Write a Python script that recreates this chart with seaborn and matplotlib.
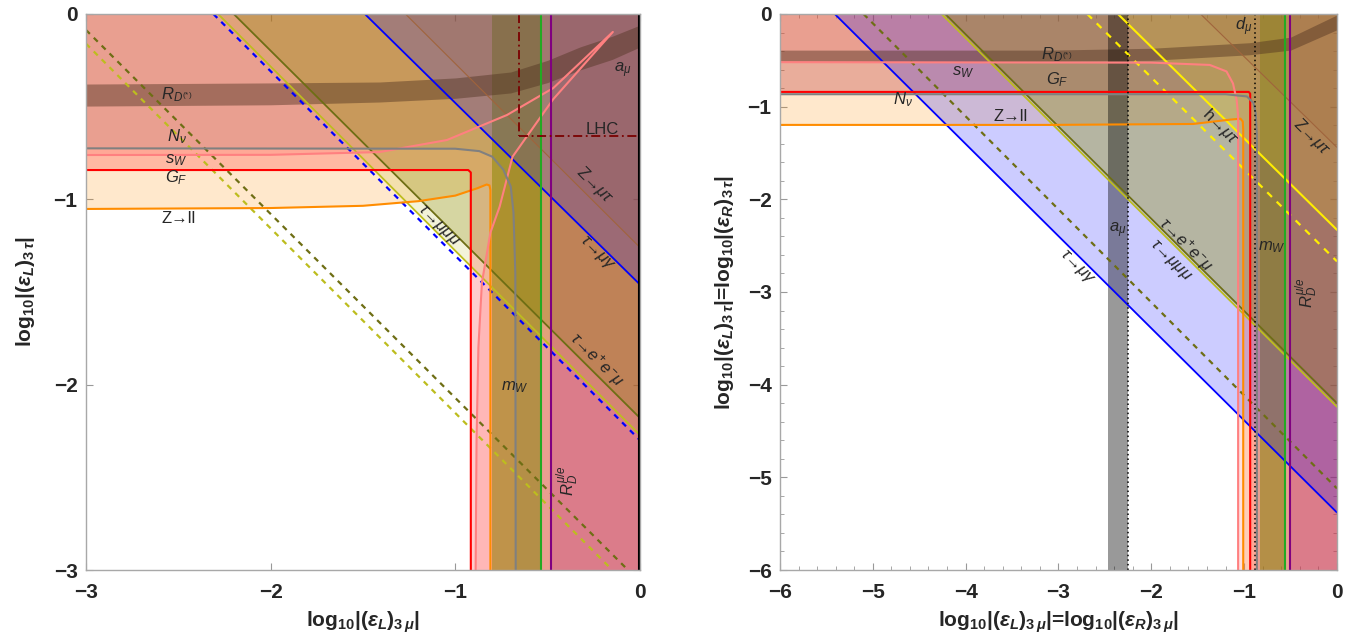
import numpy as np
import matplotlib
matplotlib.use("Agg")
import matplotlib.pyplot as plt
import seaborn as sns

# ---- left panel data: log10|(eps_L)_3mu| vs log10|(eps_L)_3tau| ----
zll_x = [-3, -2, -1.5, -1.2, -1.0, -0.88, -0.83, -0.815, -0.81, -0.81]
zll_y = [-1.052, -1.047, -1.035, -1.01, -0.98, -0.94, -0.92, -0.925, -0.95, -3]
gf_x = [-3, -0.93, -0.916, -0.916]
gf_y = [-0.842, -0.842, -0.855, -3]
sw_up_x = [-3, -2, -1.41, -1.045, -0.72, -0.47, -0.147]
sw_up_y = [-0.761, -0.76, -0.745, -0.68, -0.545, -0.40, -0.097]
sw_lo_x = [-0.147, -0.47, -0.69, -0.76, -0.81, -0.856, -0.875, -0.885, -0.89]
sw_lo_y = [-0.097, -0.46, -0.77, -1.04, -1.18, -1.45, -1.8, -2.3, -3]
nnu_x = [-3, -1.0, -0.87, -0.80, -0.74, -0.70, -0.685, -0.675, -0.673]
nnu_y = [-0.725, -0.727, -0.74, -0.77, -0.84, -0.93, -1.07, -1.4, -3]
rd_x = [-3, -2, -1.41, -1.0, -0.70, -0.5, -0.325, -0.15, 0]
rd_lo = [-0.497, -0.49, -0.475, -0.455, -0.426, -0.37, -0.302, -0.245, -0.178]
rd_hi = [-0.378, -0.372, -0.367, -0.345, -0.313, -0.25, -0.178, -0.12, -0.06]
mw_band = [-0.80, -0.537]
rdmue_x = -0.482
amu_x = -0.005
lhc_x, lhc_y = -0.655, -0.66
# diagonal limits: (x at top edge, y at right edge)
tmmm_L = (-2.285, -2.272)
teem_L = (-2.20, -2.18)
tmg_L = (-1.49, -1.46)
tmg_fut_L = (-2.31, -2.30)
zmt_L = (-1.27, -1.26)
# dashed projections: (y at left edge, x at bottom edge)
olive_dash_L = (-0.086, -0.065)
yellow_dash_L = (-0.16, -0.15)

# ---- right panel data: eps_L = eps_R ----
zll_xR = [-6, -3.09, -1.55, -1.15, -1.04, -1.015, -1.01, -1.01]
zll_yR = [-1.197, -1.197, -1.187, -1.14, -1.13, -1.16, -1.25, -6]
gf_xR = [-6, -0.95, -0.935, -0.935]
gf_yR = [-0.841, -0.841, -0.86, -6]
sw_xR = [-6, -2, -1.37, -1.19, -1.12, -1.08, -1.065, -1.065]
sw_yR = [-0.52, -0.525, -0.55, -0.62, -0.75, -0.93, -1.1, -6]
nnu_xR = [-6, -1.2, -0.97, -0.90, -0.875, -0.863, -0.863]
nnu_yR = [-0.866, -0.866, -0.89, -0.96, -1.07, -1.3, -6]
rd_xR = [-6, -4, -3.09, -2, -0.94, -0.5, 0]
rd_loR = [-0.51, -0.515, -0.51, -0.50, -0.44, -0.39, -0.17]
rd_hiR = [-0.39, -0.39, -0.39, -0.37, -0.31, -0.25, -0.01]
amu_band = [-2.47, -2.25]
dmu_x = -0.88
mw_bandR = [-0.83, -0.56]
rdmue_xR = -0.505
tmg_R = (-5.41, -5.38)
tmg_fut_R = (-6.21, -6.21)
olive_dash_R = (-5.10, -5.12)
teem_R = (-4.22, -4.20)
tmmm_R = (-4.26, -4.24)
hmt_R = (-2.36, -2.33)
hmt_dash_R = (-2.69, -2.67)
zmt_R = (-1.47, -1.44)

sns.set_style("ticks")
plt.rcParams["font.family"] = ["Liberation Sans", "DejaVu Sans"]
plt.rcParams["mathtext.fontset"] = "custom"
plt.rcParams["mathtext.rm"] = "Liberation Sans"
plt.rcParams["mathtext.it"] = "Liberation Sans:italic"
plt.rcParams["mathtext.bf"] = "Liberation Sans:italic:bold"
plt.rcParams["mathtext.sf"] = "Liberation Sans:bold"

fig = plt.figure(figsize=(13.64, 6.44), dpi=100)
axL = fig.add_axes([0.0630, 0.1149, 0.4062, 0.8634])
axR = fig.add_axes([0.5718, 0.1149, 0.4084, 0.8634])

YEL = "#BDBD1E"
OLV = "#6E6E14"


def line(ax, x, y, color, lw=1.3, ls="-", z=3):
    sns.lineplot(x=list(x), y=list(y), sort=False, estimator=None, color=color,
                 lw=lw, linestyle=ls, ax=ax, zorder=z)


def fill_outside(ax, bx, by, lo, color, alpha):
    ax.fill([lo] + list(bx) + [0, 0], [0] + list(by) + [lo, 0],
            color=color, alpha=alpha, lw=0, zorder=1)


def diag(ax, d, color, lw=1.3, ls="-", fill=None, alpha=0.0):
    xt, yr = d
    if fill is not None:
        ax.fill([xt, 0, 0], [0, yr, 0], color=fill, alpha=alpha, lw=0, zorder=1)
    line(ax, [xt, 0], [0, yr], color, lw, ls)


def proj(ax, d, lo, color):
    yl, xb = d
    line(ax, [lo, xb], [yl, lo], color, 1.6, (0, (2.5, 2.5)))


# ================= left panel =================
ax = axL
fill_outside(ax, zll_x, zll_y, -3, "#FF8C00", 0.2)
fill_outside(ax, gf_x, gf_y, -3, "#FF0000", 0.2)
fill_outside(ax, sw_up_x + sw_lo_x[1:], sw_up_y + sw_lo_y[1:], -3, "#FF6464", 0.2)
fill_outside(ax, nnu_x, nnu_y, -3, "#6E6E6E", 0.15)
ax.fill_between(rd_x, rd_lo, rd_hi, color="#503220", alpha=0.45, lw=0, zorder=2)
ax.axvspan(mw_band[0], mw_band[1], color="#808000", alpha=0.5, lw=0, zorder=1)
ax.axvspan(rdmue_x, 0, color="#AA0078", alpha=0.22, lw=0, zorder=1)

diag(ax, tmmm_L, YEL, fill="#B5B500", alpha=0.15)
diag(ax, teem_L, OLV, fill="#808000", alpha=0.25)
diag(ax, tmg_L, "#0000FF", fill="#0000FF", alpha=0.18)
diag(ax, zmt_L, "#A0643C", lw=0.8, fill="#8B4513", alpha=0.08)
diag(ax, tmg_fut_L, "#0000FF", lw=1.6, ls=(0, (2.5, 2.5)))
proj(ax, olive_dash_L, -3, OLV)
proj(ax, yellow_dash_L, -3, YEL)

line(ax, zll_x, zll_y, "#FF8C00", 1.5)
line(ax, gf_x, gf_y, "#FF0000", 1.5)
line(ax, sw_up_x + sw_lo_x[1:], sw_up_y + sw_lo_y[1:], "#FF8080", 1.5)
line(ax, nnu_x, nnu_y, "#808080", 1.5)
ax.axvline(mw_band[1], color="#22AA22", lw=1.5, zorder=3)
ax.axvline(rdmue_x, color="#800080", lw=1.5, zorder=3)
ax.axvline(amu_x, color="black", lw=1.5, zorder=3)
line(ax, [lhc_x, lhc_x], [0, lhc_y], "#7A0000", 1.3, (0, (5, 2, 1, 2)))
line(ax, [lhc_x, 0], [lhc_y, lhc_y], "#7A0000", 1.3, (0, (5, 2, 1, 2)))

txt = dict(fontsize=12, ha="center", va="center", zorder=6)
ax.text(-2.51, -0.437, r"$R_{D^{(*)}}$", **txt)
ax.text(-2.51, -0.664, r"$N_\nu$", **txt)
ax.text(-2.51, -0.788, r"$s_W$", **txt)
ax.text(-2.51, -0.885, r"$G_F$", **txt)
ax.text(-2.50, -1.106, "Z→ll", **txt)
ax.text(-0.093, -0.302, r"$a_\mu$", **txt)
ax.text(-0.206, -0.621, "LHC", **txt)
ax.text(-0.244, -0.923, r"Z→$\mu\tau$", rotation=-45, **txt)
ax.text(-0.233, -1.295, r"$\tau$→$\mu\gamma$", rotation=-45, **txt)
ax.text(-1.094, -1.144, r"$\tau$→$\mu\mu\mu$", rotation=-45, **txt)
ax.text(-0.233, -1.867, r"$\tau$→$e^{+}e^{-}\mu$", rotation=-45, **txt)
ax.text(-0.677, -2.013, r"$m_W$", **txt)
ax.text(-0.39, -2.515, r"$R_D^{\mu/e}$", rotation=90, **txt)

ax.set_xlim(-3, 0)
ax.set_ylim(-3, 0)
ax.set_xticks([-3, -2, -1, 0])
ax.set_yticks([-3, -2, -1, 0])
ax.set_xlabel(r"log$_{\mathsf{10}}$|($\mathbf{\varepsilon_L}$)$_{\mathsf{3}\,\mathbf{\mu}}$|",
              fontsize=15, fontweight="bold", labelpad=6)
ax.set_ylabel(r"log$_{\mathsf{10}}$|($\mathbf{\varepsilon_L}$)$_{\mathsf{3}\,\mathbf{\tau}}$|",
              fontsize=15, fontweight="bold", labelpad=12)

# ================= right panel =================
ax = axR
fill_outside(ax, zll_xR, zll_yR, -6, "#FF8C00", 0.2)
fill_outside(ax, gf_xR, gf_yR, -6, "#FF0000", 0.2)
fill_outside(ax, sw_xR, sw_yR, -6, "#FF6464", 0.2)
fill_outside(ax, nnu_xR, nnu_yR, -6, "#6E6E6E", 0.15)
ax.fill_between(rd_xR, rd_loR, rd_hiR, color="#503220", alpha=0.45, lw=0, zorder=2)
ax.axvspan(mw_bandR[0], mw_bandR[1], color="#808000", alpha=0.5, lw=0, zorder=1)
ax.axvspan(rdmue_xR, 0, color="#AA0078", alpha=0.22, lw=0, zorder=1)
ax.axvspan(amu_band[0], amu_band[1], color="black", alpha=0.4, lw=0, zorder=2)

diag(ax, tmg_R, "#0000FF", fill="#0000FF", alpha=0.2)
diag(ax, tmmm_R, YEL, fill="#B5B500", alpha=0.15)
diag(ax, teem_R, OLV, fill="#808000", alpha=0.25)
diag(ax, hmt_R, "#FFEE00", lw=1.5, fill="#FFE600", alpha=0.15)
diag(ax, zmt_R, "#A0643C", lw=0.8, fill="#8B4513", alpha=0.08)
diag(ax, hmt_dash_R, "#FFEE00", lw=1.6, ls=(0, (3, 3)))
diag(ax, olive_dash_R, OLV, lw=1.6, ls=(0, (2.5, 2.5)))
proj(ax, tmg_fut_R, -6, "#0000FF")

line(ax, zll_xR, zll_yR, "#FF8C00", 1.5)
line(ax, gf_xR, gf_yR, "#FF0000", 1.5)
line(ax, sw_xR, sw_yR, "#FF8080", 1.5)
line(ax, nnu_xR, nnu_yR, "#808080", 1.5)
ax.axvline(mw_bandR[1], color="#22AA22", lw=1.5, zorder=3)
ax.axvline(rdmue_xR, color="#800080", lw=1.5, zorder=3)
ax.axvline(dmu_x, color="black", lw=1.1, ls=(0, (1, 2)), zorder=3)
ax.axvline(amu_band[1], color="black", lw=1.1, ls=(0, (1, 2)), zorder=3)

ax.text(-3.015, -0.442, r"$R_{D^{(*)}}$", **txt)
ax.text(-4.028, -0.626, r"$s_W$", **txt)
ax.text(-3.015, -0.712, r"$G_F$", **txt)
ax.text(-4.675, -0.928, r"$N_\nu$", **txt)
ax.text(-3.52, -1.111, "Z→ll", **txt)
ax.text(-1.26, -1.219, r"h→$\mu\tau$", rotation=-45, **txt)
ax.text(-0.278, -1.327, r"Z→$\mu\tau$", rotation=-45, **txt)
ax.text(-1.01, -0.14, r"$d_\mu$", **txt)
ax.text(-2.358, -2.33, r"$a_\mu$", **txt)
ax.text(-1.636, -2.49, r"$\tau$→$e^{+}e^{-}\mu$", rotation=-45, **txt)
ax.text(-1.797, -2.66, r"$\tau$→$\mu\mu\mu$", rotation=-45, **txt)
ax.text(-2.80, -2.74, r"$\tau$→$\mu\gamma$", rotation=-45, **txt)
ax.text(-0.698, -2.513, r"$m_W$", **txt)
ax.text(-0.321, -3.01, r"$R_D^{\mu/e}$", rotation=90, **txt)

ax.set_xlim(-6, 0)
ax.set_ylim(-6, 0)
ax.set_xticks(range(-6, 1))
ax.set_yticks(range(-6, 1))
ax.set_xticks(np.arange(-6, 0.01, 0.2), minor=True)
ax.set_yticks(np.arange(-6, 0.01, 0.2), minor=True)
ax.set_xlabel(r"log$_{\mathsf{10}}$|($\mathbf{\varepsilon_L}$)$_{\mathsf{3}\,\mathbf{\mu}}$|"
              r"=log$_{\mathsf{10}}$|($\mathbf{\varepsilon_R}$)$_{\mathsf{3}\,\mathbf{\mu}}$|",
              fontsize=15, fontweight="bold", labelpad=6)
ax.set_ylabel(r"log$_{\mathsf{10}}$|($\mathbf{\varepsilon_L}$)$_{\mathsf{3}\,\mathbf{\tau}}$|"
              r"=log$_{\mathsf{10}}$|($\mathbf{\varepsilon_R}$)$_{\mathsf{3}\,\mathbf{\tau}}$|",
              fontsize=15, fontweight="bold", labelpad=8)

for ax in (axL, axR):
    ax.tick_params(which="both", direction="in", top=True, right=True,
                   color="#999999", labelsize=15)
    ax.tick_params(which="major", length=5)
    ax.tick_params(which="minor", length=3)
    ax.tick_params(axis="x", pad=9)
    ax.tick_params(axis="y", pad=6)
    for lab in ax.get_xticklabels() + ax.get_yticklabels():
        lab.set_fontweight("bold")
    for sp in ax.spines.values():
        sp.set_color("#A8A8A8")
        sp.set_linewidth(1.0)
        sp.set_zorder(7)

fig.savefig("out.png", dpi=100)
